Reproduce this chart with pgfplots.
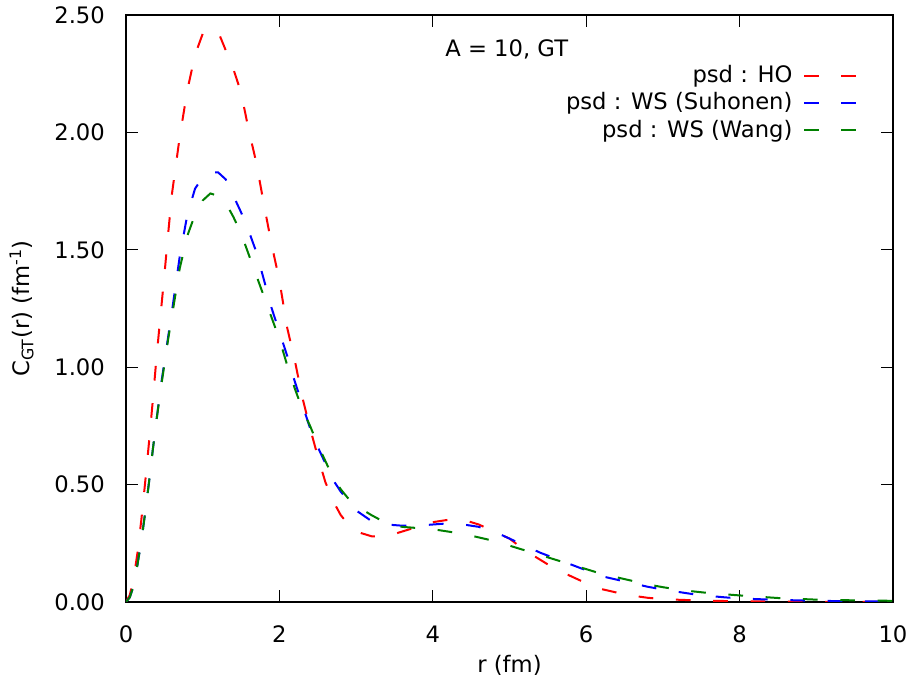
\documentclass[border=0pt]{standalone}
\usepackage{fontspec}
\setmainfont{DejaVu Sans}
\usepackage{pgfplots}
\pgfplotsset{compat=1.18}
\definecolor{gpred}{RGB}{255,0,0}
\definecolor{gpblue}{RGB}{0,0,255}
\definecolor{gpgreen}{RGB}{0,128,0}
\begin{document}
\fontsize{17}{20}\selectfont
\begin{tikzpicture}
\begin{axis}[
  scale only axis,
  width=575.25pt, height=440.25pt,
  xmin=0, xmax=10, ymin=0, ymax=2.5,
  xtick={0,2,4,6,8,10},
  ytick={0,0.5,1,1.5,2,2.5},
  /pgf/number format/assume math mode=true,
  yticklabel style={/pgf/number format/fixed, /pgf/number format/fixed zerofill, /pgf/number format/precision=2, xshift=-10pt},
  scaled y ticks=false,
  tick align=inside,
  major tick length=9pt,
  tick style={black, line width=0.75pt},
  axis line style={black, line width=0.9pt},
  xlabel={r (fm)},
  ylabel={C\textsubscript{GT}(r) (fm\textsuperscript{-1})},
  xlabel style={yshift=2pt},
  ylabel style={yshift=4pt},
  xticklabel style={yshift=-12pt},
  legend cell align=right,
  legend plot pos=right,
  legend style={draw=none, fill=none, at={(0.957,0.919)}, anchor=north east,
    inner sep=0pt, row sep=1pt, column sep=6pt, font=\fontsize{17}{20}\selectfont},
  legend image code/.code={\draw[#1] (0pt,0pt) -- (41pt,0pt);},
  every axis plot/.append style={line width=1.5pt, dash pattern=on 11pt off 17pt},
  clip=true,
]
\coordinate (bl) at (rel axis cs:0,0);
\coordinate (tr) at (rel axis cs:1,1);
\addplot[gpred] coordinates {
(0.00,0.00) (0.05,0.03) (0.10,0.10) (0.15,0.21) (0.20,0.35) (0.25,0.51) (0.30,0.68) (0.35,0.86) (0.40,1.05) (0.45,1.22) (0.50,1.39) (0.55,1.57) (0.60,1.74) (0.70,1.98) (0.80,2.18) (0.90,2.33) (1.00,2.42) (1.10,2.44) (1.20,2.43) (1.30,2.35) (1.40,2.27) (1.50,2.17) (1.60,2.01) (1.70,1.87) (1.80,1.69) (1.90,1.52) (2.00,1.37) (2.10,1.17) (2.20,1.03) (2.30,0.87) (2.40,0.74) (2.50,0.62) (2.60,0.51) (2.70,0.43) (2.80,0.37) (2.90,0.33) (3.00,0.30) (3.20,0.28) (3.40,0.28) (3.60,0.30) (3.80,0.32) (4.00,0.34) (4.20,0.35) (4.40,0.35) (4.60,0.33) (4.80,0.30) (5.00,0.27) (5.20,0.22) (5.40,0.18) (5.60,0.14) (5.80,0.11) (6.00,0.08) (6.20,0.055) (6.40,0.04) (6.60,0.027) (6.80,0.018) (7.00,0.012) (7.50,0.006) (8.00,0.003) (9.00,0.001) (10.00,0.00)
};
\addlegendentry{psd : HO}
\addplot[gpblue] coordinates {
(0.00,0.00) (0.05,0.02) (0.10,0.07) (0.15,0.16) (0.20,0.26) (0.25,0.38) (0.30,0.51) (0.35,0.65) (0.40,0.78) (0.45,0.91) (0.50,1.02) (0.55,1.13) (0.60,1.24) (0.70,1.47) (0.80,1.65) (0.90,1.76) (1.00,1.81) (1.10,1.83) (1.20,1.83) (1.30,1.80) (1.40,1.73) (1.50,1.66) (1.60,1.58) (1.70,1.49) (1.80,1.37) (1.90,1.25) (2.00,1.15) (2.10,1.05) (2.20,0.94) (2.30,0.84) (2.40,0.74) (2.50,0.66) (2.60,0.59) (2.70,0.52) (2.80,0.47) (2.90,0.43) (3.00,0.39) (3.20,0.345) (3.40,0.33) (3.60,0.325) (3.80,0.325) (4.00,0.33) (4.20,0.335) (4.40,0.33) (4.60,0.32) (4.80,0.30) (5.00,0.27) (5.20,0.24) (5.40,0.21) (5.60,0.185) (5.80,0.16) (6.00,0.135) (6.20,0.11) (6.40,0.095) (6.60,0.08) (6.80,0.065) (7.00,0.053) (7.20,0.043) (7.40,0.033) (7.60,0.026) (7.80,0.02) (8.00,0.015) (8.50,0.009) (9.00,0.005) (9.50,0.003) (10.00,0.002)
};
\addlegendentry{psd : WS (Suhonen)}
\addplot[gpgreen] coordinates {
(0.00,0.00) (0.05,0.02) (0.10,0.07) (0.15,0.16) (0.20,0.26) (0.25,0.38) (0.30,0.51) (0.35,0.65) (0.40,0.78) (0.45,0.90) (0.50,1.01) (0.55,1.12) (0.60,1.22) (0.70,1.42) (0.80,1.56) (0.90,1.65) (1.00,1.71) (1.10,1.74) (1.20,1.73) (1.30,1.70) (1.40,1.64) (1.50,1.57) (1.60,1.48) (1.70,1.39) (1.80,1.30) (1.90,1.21) (2.00,1.12) (2.10,1.01) (2.20,0.91) (2.30,0.82) (2.40,0.75) (2.50,0.67) (2.60,0.60) (2.70,0.53) (2.80,0.48) (2.90,0.44) (3.00,0.41) (3.20,0.37) (3.40,0.335) (3.60,0.32) (3.80,0.315) (4.00,0.31) (4.20,0.30) (4.40,0.29) (4.60,0.275) (4.80,0.26) (5.00,0.24) (5.20,0.22) (5.40,0.20) (5.60,0.18) (5.80,0.16) (6.00,0.14) (6.20,0.12) (6.40,0.105) (6.60,0.09) (6.80,0.075) (7.00,0.063) (7.20,0.053) (7.40,0.045) (7.60,0.038) (7.80,0.033) (8.00,0.028) (8.50,0.017) (9.00,0.01) (9.50,0.007) (10.00,0.005)
};
\addlegendentry{psd : WS (Wang)}
\node[anchor=west, inner sep=0pt] at (axis cs:4.16,2.355) {A = 10, GT};
\end{axis}
\pgfresetboundingbox
\path ([shift={(-94.5pt,-66.75pt)}]bl) rectangle ([shift={(15.75pt,11.25pt)}]tr);
\end{tikzpicture}
\end{document}
